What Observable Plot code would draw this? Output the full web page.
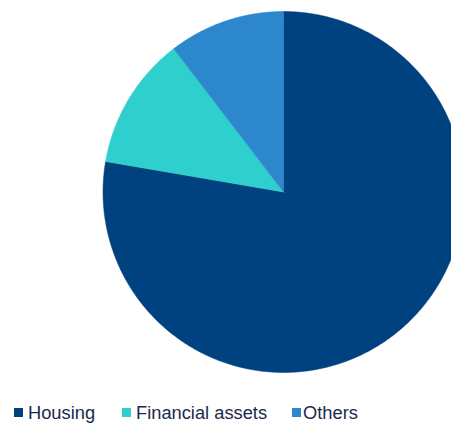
<!DOCTYPE html>
<html>
<head>
<meta charset="utf-8">
<script src="https://cdn.jsdelivr.net/npm/d3@7"></script>
<script src="https://cdn.jsdelivr.net/npm/@observablehq/plot@0.6"></script>
<style>
  html, body { margin: 0; padding: 0; background: #fff; overflow: hidden; width: 451px; height: 423px; }
  #chart svg { display: block; overflow: hidden; }
  #legend { position: absolute; left: 0; top: 400px; height: 23px; font-family: "Liberation Sans", Arial, sans-serif; font-size: 18.3px; color: #1b2a4a; }
  .item { position: absolute; top: 0; white-space: nowrap; }
  .sw { position: absolute; top: 8px; width: 9px; height: 9px; }
  .lbl { position: absolute; top: 3px; line-height: 20px; }
</style>
</head>
<body>
<div id="chart"></div>
<div id="legend"></div>
<script>
const categories = ["Housing", "Financial assets", "Others"];
const shares = [77.7, 11.9, 10.4];
const colors = ["#00427f", "#2ecfcd", "#2c87cc"];
const legendX = [14, 122, 292];

// Build slice outlines (geometry only) from the shares, clockwise from 12 o'clock
const total = d3.sum(shares);
const pts = [];
let start = 0;
categories.forEach((cat, i) => {
  const end = start + shares[i] / total * 2 * Math.PI;
  pts.push({cat, x: 0, y: 0});
  const n = Math.max(2, Math.ceil((end - start) / (Math.PI / 360)));
  for (let k = 0; k <= n; k++) {
    const a = start + (end - start) * k / n;
    pts.push({cat, x: Math.sin(a), y: Math.cos(a)});
  }
  pts.push({cat, x: 0, y: 0});
  start = end;
});

const chart = Plot.plot({
  width: 451,
  height: 392,
  margin: 0,
  x: {domain: [-1, 1], range: [102.5, 463.5], axis: null},
  y: {domain: [-1, 1], range: [372, 11], axis: null},
  color: {domain: categories, range: colors},
  marks: [
    Plot.line(pts, {x: "x", y: "y", z: "cat", fill: "cat", stroke: "cat", strokeWidth: 0.5, curve: "linear"})
  ]
});
document.getElementById("chart").appendChild(chart);

const legend = document.getElementById("legend");
categories.forEach((cat, i) => {
  const item = document.createElement("div");
  item.className = "item";
  item.style.left = legendX[i] + "px";
  const sw = document.createElement("div");
  sw.className = "sw";
  sw.style.left = "0px";
  sw.style.background = colors[i];
  const lbl = document.createElement("div");
  lbl.className = "lbl";
  lbl.style.left = (i === 2 ? 11 : 14) + "px";
  lbl.textContent = cat;
  item.appendChild(sw);
  item.appendChild(lbl);
  legend.appendChild(item);
});
</script>
</body>
</html>
